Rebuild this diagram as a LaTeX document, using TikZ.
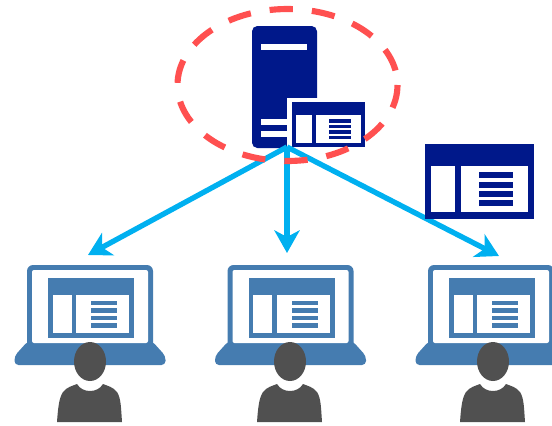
\documentclass[tikz,border=0pt]{standalone}
\usetikzlibrary{arrows.meta}
\definecolor{servercol}{HTML}{00188A}
\definecolor{laptopcol}{HTML}{457CB0}
\definecolor{personcol}{HTML}{505050}
\definecolor{linkcol}{HTML}{00B0F0}
\definecolor{ringcol}{HTML}{FF5050}
\tikzset{
  link/.style={linkcol,line width=4pt,-{Stealth[length=17pt,width=19pt,inset=5pt]}},
  ring/.style={ringcol,line width=4.6pt,dash pattern=on 17.5pt off 14.3pt},
  pics/panel/.style={code={
    \fill[#1] (0,0) rectangle (1,1);
    \fill[white] (0.055,0.289) rectangle (0.279,0.911);
    \fill[white] (0.331,0.289) rectangle (0.945,0.911);
    \foreach \r in {0.378,0.502,0.627,0.751}
      \fill[#1] (0.5,\r) rectangle (0.807,\r+0.08);
  }}
}
\begin{document}
\begin{tikzpicture}[x=0.75pt,y=-0.75pt]
\clip (0,0) rectangle (552,425);
\coordinate (hub) at (287,147);
\coordinate (userA) at (88,255);
\coordinate (userB) at (287,253);
\coordinate (userC) at (499,256);
% server
\fill[servercol,rounded corners=4pt] (252,148) -- (252,26) -- (317,26) -- (317,148) -- cycle;
\fill[white] (261,44) rectangle (307,50);
\fill[white] (261,119) rectangle (290,125);
\fill[white] (261,131) rectangle (290,137);
\fill[white] (287,98) rectangle (368,150);
\pic[xscale=73,yscale=45] at (292,102) {panel=servercol};
% links
\draw[link] (hub) -- (userA);
\draw[link] (hub) -- (userB);
\draw[link] (hub) -- (userC);
\draw[ring] (287.5,85) ellipse [x radius=110,y radius=76];
\pic[xscale=108.7,yscale=75] at (425,144) {panel=servercol};
% laptops and users
\foreach \dx/\px in {0/0,200.5/200,401/403} {
\begin{scope}[shift={(\dx,0)}]
\fill[laptopcol,rounded corners=4.5pt] (27,350) -- (27,265) -- (153,265) -- (153,350) -- cycle;
\fill[laptopcol,rounded corners=3pt] (28,341) -- (152,341) -- (165.5,356) -- (165.5,365) -- (14.5,365) -- (14.5,356) -- cycle;
\fill[white,rounded corners=1.5pt] (32,343) -- (32,270) -- (148,270) -- (148,343) -- cycle;
\pic[xscale=86,yscale=60] at (48,278) {panel=laptopcol};
\end{scope}
\begin{scope}[shift={(\px,0)}]
\fill[personcol] (90,361.5) ellipse [x radius=16,y radius=19.5];
\fill[personcol] (57,422) .. controls (58,408) and (59,398) .. (63,392) .. controls (67,387) and (72,386) .. (77,384) .. controls (80,389) and (85,391) .. (90,391) .. controls (95,391) and (100,389) .. (103,384) .. controls (108,386) and (113,387) .. (117,392) .. controls (121,398) and (121,408) .. (122,422) -- cycle;
\end{scope}
}
\end{tikzpicture}
\end{document}
